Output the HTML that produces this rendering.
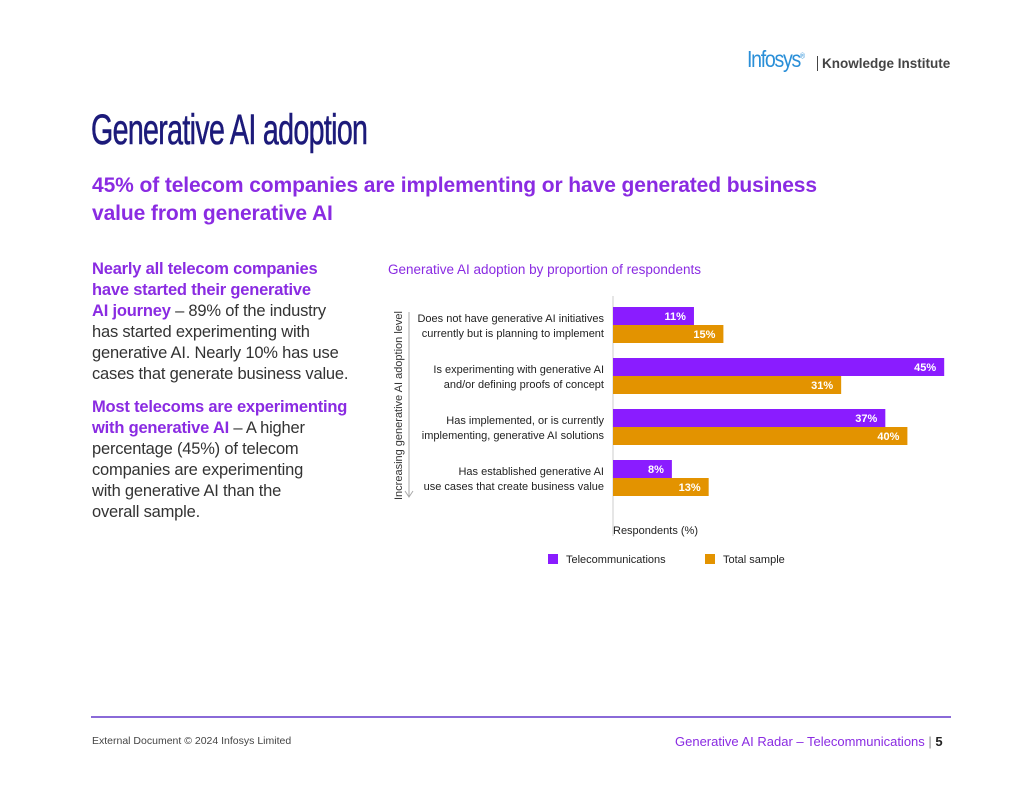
<!DOCTYPE html>
<html><head><meta charset="utf-8"><style>
body{margin:0;width:1024px;height:791px;background:#fff;font-family:"Liberation Sans",sans-serif;position:relative;overflow:hidden}
.abs{position:absolute}
</style></head><body>
<div class="abs" style="left:747px;top:46px;font-size:23px;color:#2a8fd8;letter-spacing:-1.5px;transform:scaleX(0.85);transform-origin:left">Infosys<sup style="font-size:8px">®</sup></div>
<div class="abs" style="left:817px;top:56px;font-size:13.5px;font-weight:bold;color:#444;border-left:1px solid #444;padding-left:4px">Knowledge Institute</div>
<div class="abs" style="left:91px;top:106px;font-size:43px;color:#1c1a7a;transform:scaleX(0.665);transform-origin:left;letter-spacing:-1px;white-space:nowrap;-webkit-text-stroke:0.6px #1c1a7a">Generative AI adoption</div>
<div class="abs" style="left:92px;top:172px;font-size:21px;font-weight:bold;color:#8a2be2;line-height:28px;white-space:nowrap;letter-spacing:-0.1px">45% of telecom companies are implementing or have generated business<br>value from generative AI</div>
<div class="abs" style="left:92px;top:259px;font-size:16.5px;color:#333;line-height:21px;white-space:nowrap;letter-spacing:-0.2px">
<p style="margin:0 0 12px"><b style="color:#8a2be2">Nearly all telecom companies<br>have started their generative<br>AI journey</b> – 89% of the industry<br>has started experimenting with<br>generative AI. Nearly 10% has use<br>cases that generate business value.</p>
<p style="margin:0"><b style="color:#8a2be2">Most telecoms are experimenting<br>with generative AI</b> – A higher<br>percentage (45%) of telecom<br>companies are experimenting<br>with generative AI than the<br>overall sample.</p></div>
<div class="abs" style="left:388px;top:262px;font-size:13.5px;color:#8a2be2">Generative AI adoption by proportion of respondents</div>
<svg class="abs" style="left:0;top:0" width="1024" height="791" id="chart"></svg>
<div class="abs" style="left:91px;top:716px;width:860px;height:2px;background:#8a6ad8"></div>
<div class="abs" style="left:92px;top:735px;font-size:10.5px;color:#444">External Document © 2024 Infosys Limited</div>
<div class="abs" style="left:675px;top:734px;font-size:13px;color:#8a2be2">Generative AI Radar – Telecommunications <span style="color:#888">|</span> <b style="color:#222">5</b></div>
<script>
const categories=[["Does not have generative AI initiatives","currently but is planning to implement"],["Is experimenting with generative AI","and/or defining proofs of concept"],["Has implemented, or is currently","implementing, generative AI solutions"],["Has established generative AI","use cases that create business value"]];
const telecom=[11,45,37,8];
const total=[15,31,40,13];
const seriesNames=["Telecommunications","Total sample"];
const colors=["#8a1cff","#e39300"];
const svg=document.getElementById('chart');const NS="http://www.w3.org/2000/svg";
const x0=613,pxPer=7.36;const xs=v=>x0+v*pxPer;
const yGroup=i=>307+i*51;const bh=18;
function mk(t,a){const e=document.createElementNS(NS,t);for(const k in a)e.setAttribute(k,a[k]);svg.appendChild(e);return e;}
const ax=mk('line',{x1:x0,x2:x0,y1:296,y2:536,stroke:'#ccc','stroke-width':1});


const at=mk('text',{x:0,y:0,transform:'translate(402,500) rotate(-90)','font-size':11,fill:'#333'});at.textContent='Increasing generative AI adoption level';


const arr=mk('path',{d:'M409,312 V496 M405,491 L409,497 L413,491',stroke:'#aaa',fill:'none','stroke-width':1});


[telecom,total].forEach((s,si)=>{s.forEach((v,i)=>{const y=yGroup(i)+si*bh;
const r=mk('rect',{x:x0,y:y,width:xs(v)-x0,height:bh,fill:colors[si]});


const t=mk('text',{x:xs(v)-8,y:y+13,'text-anchor':'end','font-size':11,'font-weight':'bold',fill:'#fff'});t.textContent=v+'%';

});});
categories.forEach((c,i)=>{c.forEach((l,j)=>{const t=mk('text',{x:604,y:yGroup(i)+15+j*15,'text-anchor':'end','font-size':11,fill:'#222'});t.textContent=l;

});});
const xt=mk('text',{x:613,y:534,'font-size':11,fill:'#222'});xt.textContent='Respondents (%)';


seriesNames.forEach((n,i)=>{const lx=548+i*157;
const r=mk('rect',{x:lx,y:554,width:10,height:10,fill:colors[i]});


const t=mk('text',{x:lx+18,y:563,'font-size':11,fill:'#222'});t.textContent=n;

});
</script>
</body></html>
